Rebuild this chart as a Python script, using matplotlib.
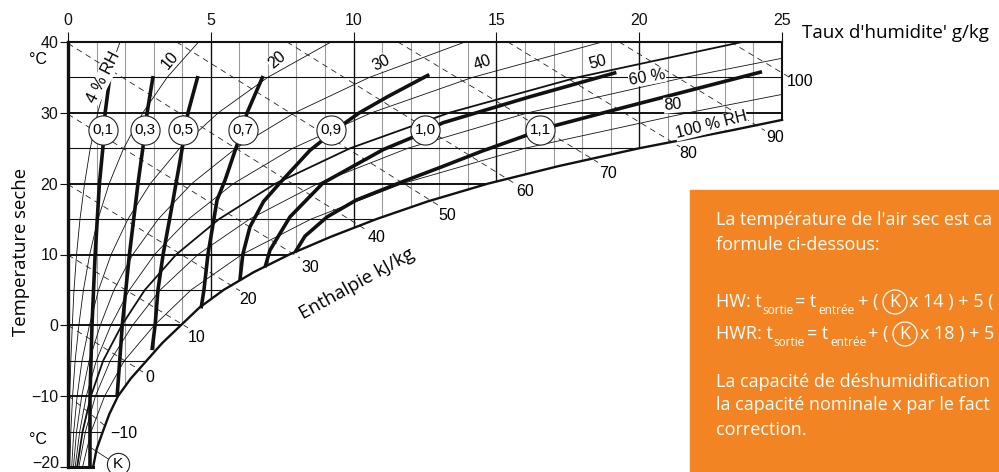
import matplotlib.pyplot as plt
from matplotlib.patches import Polygon, Rectangle, Ellipse

plt.rcParams['font.family'] = ['Liberation Sans', 'DejaVu Sans']

W, H = 999, 472

# saturation curve (100 % RH), humidity g/kg vs dry temperature
sat_T = [-20, -17.5, -15, -12.5, -10, -7.5, -5, -2.5, 0, 2.5, 5, 7.5, 10,
         12.5, 15, 17.5, 20, 22.5, 25, 27.5, 29]
sat_x = [0.88, 1.0, 1.22, 1.45, 1.75, 2.2, 2.75, 3.3, 3.95, 4.6, 5.45, 6.5,
         7.75, 9.2, 10.8, 12.6, 14.7, 17.2, 20.0, 23.2, 25.0]

# relative humidity curves
rh_T = [-20, -15, -10, -5, 0, 5, 10, 15, 20, 25, 30, 35, 40]
rh04 = [0.03, 0.04, 0.06, 0.10, 0.15, 0.21, 0.30, 0.42, 0.58, 0.78, 1.04, 1.38, 1.82]
rh10 = [0.06, 0.10, 0.16, 0.25, 0.38, 0.54, 0.76, 1.05, 1.44, 1.95, 2.62, 3.47, 4.57]
rh20 = [0.13, 0.20, 0.32, 0.49, 0.75, 1.07, 1.51, 2.10, 2.88, 3.91, 5.26, 6.99, 9.21]
rh30 = [0.19, 0.30, 0.48, 0.74, 1.13, 1.61, 2.27, 3.16, 4.33, 5.88, 7.93, 10.55, 13.9]
rh40 = [0.25, 0.41, 0.64, 0.99, 1.50, 2.15, 3.03, 4.22, 5.79, 7.87, 10.62, 14.16, 18.7]
rh50 = [0.32, 0.51, 0.80, 1.23, 1.88, 2.69, 3.79, 5.29, 7.26, 9.88, 13.34, 17.83, 23.6]
rh60_T = [-20, -15, -10, -5, 0, 5, 10, 15, 20, 25, 30, 35, 37.7]
rh60 = [0.38, 0.61, 0.96, 1.48, 2.26, 3.23, 4.55, 6.36, 8.74, 11.9, 16.1, 21.6, 25.0]
rh80_T = [-20, -15, -10, -5, 0, 5, 10, 15, 20, 25, 30, 32.6]
rh80 = [0.51, 0.81, 1.28, 1.97, 3.02, 4.31, 6.09, 8.51, 11.7, 16.0, 21.7, 25.0]

# enthalpy lines kJ/kg: start on chart edge, end at label leader
enth_vals = [-10, 0, 10, 20, 30, 40, 50, 60, 70, 80, 90, 100]
enth_x0 = [0, 0, 0, 0, 0, 0, 3.8, 7.67, 11.55, 15.4, 19.3, 23.2]
enth_T0 = [-9.9, 0, 9.94, 19.9, 29.8, 39.8, 40, 40, 40, 40, 40, 40]
enth_x1 = [1.3, 2.63, 4.2, 6.02, 8.12, 10.43, 12.95, 15.65, 18.56, 21.43, 24.4, 25.35]
enth_T1 = [-14.2, -6.6, -0.35, 4.87, 9.5, 13.5, 17.0, 20.0, 23.0, 25.2, 27.5, 34.8]

# correction factor K curves
k_labels = ['0,1', '0,3', '0,5', '0,7', '0,9', '1,0', '1,1']
k_lbl_x = [1.23, 2.70, 4.03, 6.13, 9.21, 12.5, 16.53]
k_lbl_T = [27.6, 27.6, 27.6, 27.6, 27.6, 27.6, 27.6]
k01_x = [0.77, 0.77, 0.84, 0.95, 1.10, 1.22, 1.30, 1.47]
k01_T = [-20, -10, 0, 10, 20, 25, 30, 35.2]
k03_x = [1.72, 1.90, 2.15, 2.45, 2.62, 2.77, 2.98]
k03_T = [-10, 0, 10, 20, 25, 30, 35.2]
k05_x = [2.94, 3.05, 3.15, 3.33, 3.68, 4.00, 4.20, 4.55]
k05_T = [-3.5, 0, 5, 10, 17.7, 25, 30, 35.2]
k07_x = [4.66, 4.76, 4.90, 5.22, 5.50, 5.92, 6.27, 6.83]
k07_T = [2.4, 5, 10, 17.7, 20.5, 25.5, 30, 35.2]
k09_x = [6.02, 6.12, 6.37, 6.85, 7.42, 8.47, 9.5, 10.2, 11.2, 12.65]
k09_T = [6.4, 10.0, 13.9, 17.5, 20.1, 24.7, 28.0, 30.0, 32.3, 35.4]
k10_x = [6.90, 7.07, 7.77, 8.93, 11.03, 12.1, 13.13, 16.2, 19.2]
k10_T = [8.2, 10.6, 15.3, 20.1, 24.8, 26.6, 28.6, 32.3, 35.7]
k11_x = [7.95, 8.30, 9.07, 10.1, 11.6, 13.1, 14.5, 16.1, 17.05, 19.5, 24.3]
k11_T = [10.3, 12.6, 15.3, 17.7, 20.1, 22.4, 24.6, 26.9, 28.2, 30.8, 35.8]

x_ticks = [0, 5, 10, 15, 20, 25]
T_ticks = [-20, -10, 0, 10, 20, 30, 40]
T_tick_labels = ['', '\u221210', '0', '10', '20', '30', '40']

fig = plt.figure(figsize=(W / 100, H / 100), dpi=100)

# orange note box (behind the transparent axes)
orange = '#f28423'
fig.add_artist(Rectangle((690 / W, 0), 309 / W, (472 - 190) / H,
                         transform=fig.transFigure, color=orange, zorder=-1))

ax = fig.add_axes([68 / W, 5 / H, 714 / W, 425 / H])
ax.patch.set_visible(False)
ax.set_xlim(0, 25)
ax.set_ylim(-20, 40)
for s in ax.spines.values():
    s.set_visible(False)


def put(px, py, s, **kw):
    return fig.text(px / W, 1 - py / H, s, **kw)


# chart area used to clip grid and curves
clip_pts = [(0, -20), (0, 40), (25, 40)] + list(zip(sat_x, sat_T))[::-1]
area = Polygon(clip_pts, closed=True, facecolor='none', edgecolor='none')
ax.add_patch(area)


def clipped(lines):
    for ln in lines:
        ln.set_clip_path(area)


# grid
for g in range(1, 25):
    major = g % 5 == 0
    clipped(ax.plot([g, g], [-20, 40], color='#111' if major else '#9a9a9a',
                    lw=1.0 if major else 0.8, zorder=1))
for t in range(-15, 40, 5):
    clipped(ax.plot([0, 25], [t, t], color='#111',
                    lw=1.4 if t % 10 == 0 else 0.8, zorder=1))

# relative humidity curves
for xs, ts, lw in [(rh04, rh_T, 0.6), (rh10, rh_T, 0.6), (rh20, rh_T, 0.6),
                   (rh30, rh_T, 0.6), (rh40, rh_T, 0.6), (rh50, rh_T, 1.3),
                   (rh60, rh60_T, 0.6), (rh80, rh80_T, 0.6)]:
    clipped(ax.plot(xs, ts, color='#111', lw=lw, zorder=2))

# enthalpy lines
for x0, t0, x1, t1 in zip(enth_x0, enth_T0, enth_x1, enth_T1):
    ax.plot([x0, x1], [t0, t1], color='#222', lw=0.6, dashes=(7, 5.5),
            zorder=2, clip_on=False)

# K curves
for xs, ts in [(k01_x, k01_T), (k03_x, k03_T), (k05_x, k05_T), (k07_x, k07_T),
               (k09_x, k09_T), (k10_x, k10_T), (k11_x, k11_T)]:
    ax.plot(xs, ts, color='#111', lw=2.6, zorder=4, solid_capstyle='butt')

# borders
ax.plot(sat_x, sat_T, color='#111', lw=1.7, zorder=5, clip_on=False)
ax.plot([0, 0], [-20, 40], color='#111', lw=2.4, zorder=5, clip_on=False)
ax.plot([0, 25], [40, 40], color='#111', lw=1.5, zorder=5, clip_on=False)
ax.plot([25, 25], [sat_T[-1], 40], color='#111', lw=1.5, zorder=5, clip_on=False)
ax.plot([0, sat_x[0]], [-20, -20], color='#111', lw=2.2, zorder=5, clip_on=False)

# K labels
ax.plot(k_lbl_x, k_lbl_T, 'o', ms=21, mfc='white', mec='#222', mew=0.8,
        zorder=6, clip_on=False)
for lbl, x, t in zip(k_labels, k_lbl_x, k_lbl_T):
    ax.text(x, t, lbl, ha='center', va='center', fontsize=11, zorder=7)

# ticks
ax.xaxis.tick_top()
ax.set_xticks(x_ticks)
ax.set_yticks(T_ticks, T_tick_labels)
ax.tick_params(axis='x', top=True, bottom=False, length=7, width=0.8, pad=3,
               labelsize=11.5, colors='#111')
ax.tick_params(axis='y', length=6, width=0.8, pad=1, labelsize=11.5,
               colors='#111')
put(59, 463, '\u221220', ha='right', va='center', fontsize=11.5, color='#111')

put(38, 60, '°C', ha='center', va='center', fontsize=11.5)
put(38, 440, '°C', ha='center', va='center', fontsize=11.5)

# RH labels
for px, py, s, rot in [(104, 77, '4 % RH', 63), (170, 60, '10', 50),
                       (277, 60, '20', 40), (381, 63, '30', 27),
                       (482, 63, '40', 20), (598, 62, '50', 15),
                       (647, 77, '60 %', 10), (673, 105, '80', 5),
                       (711, 125, '100 % RH', 14)]:
    t = put(px, py, s, ha='center', va='center', rotation=rot, fontsize=11.5,
            rotation_mode='anchor')
    t.set_bbox(dict(facecolor='white', edgecolor='none', pad=0.3))
    t.set_zorder(8)

# enthalpy labels
for (px, py), v in zip([(124, 433), (150, 378), (197, 337), (248, 300),
                        (310, 268), (377, 238), (447, 215), (525, 192),
                        (608, 173), (688, 153), (775, 137), (800, 82)],
                       enth_vals):
    put(px, py, str(v).replace('-', '\u2212'), ha='center', va='center',
        fontsize=11.5)

# circled K at the bottom
ax.plot([0.77, 1.5], [-17.2, -19.1], color='#222', lw=0.6, clip_on=False)
ax.plot([1.75], [-19.6], 'o', ms=16, mfc='white', mec='#222', mew=0.8,
        clip_on=False, zorder=6)
ax.text(1.75, -19.6, 'K', ha='center', va='center', fontsize=11, zorder=7)

# axis titles
put(21, 252, 'Temperature seche', rotation=90, ha='center', va='center',
    fontsize=13.3, family='Open Sans')
put(802, 33, "Taux d'humidite' g/kg", ha='left', va='center', fontsize=13.5,
    family='Open Sans')
put(357, 284, 'Enthalpie kJ/kg', rotation=29, ha='center', va='center',
    fontsize=13.5, family='Open Sans')

# note text
box = dict(color='white', family='Open Sans', va='center', ha='left')
fs = 13
put(716, 220, "La température de l'air sec est ca", fontsize=fs, **box)
put(716, 245, 'formule ci-dessous:', fontsize=fs, **box)
put(716, 382, 'La capacité de déshumidification', fontsize=fs, **box)
put(716, 405, 'la capacité nominale x par le fact', fontsize=fs, **box)
put(716, 430, 'correction.', fontsize=fs, **box)

for y, parts, kx, tail in [
        (302, [(716, 'HW: t', 0), (762, 'sortie', 1), (795, '= t', 0),
               (818, 'entrée', 1), (858, '+ (', 0)], 895, (909, 'x 14 ) + 5 (')),
        (334, [(716, 'HWR: t', 0), (773, 'sortie', 1), (807, '= t', 0),
               (830, 'entrée', 1), (868, '+ (', 0)], 905, (920, 'x 18 ) + 5'))]:
    for px, s, sub in parts:
        if sub:
            put(px, y + 9, s, fontsize=8.5, **box)
        else:
            put(px, y, s, fontsize=fs, **box)
    fig.add_artist(Ellipse((kx / W, 1 - y / H), 24 / W, 24 / H,
                           transform=fig.transFigure, facecolor='none',
                           edgecolor='white', lw=0.9))
    put(kx, y, 'K', fontsize=fs, color='white', family='Open Sans',
        ha='center', va='center')
    put(tail[0], y, tail[1], fontsize=fs, **box)

fig.savefig('out.png', dpi=100)
